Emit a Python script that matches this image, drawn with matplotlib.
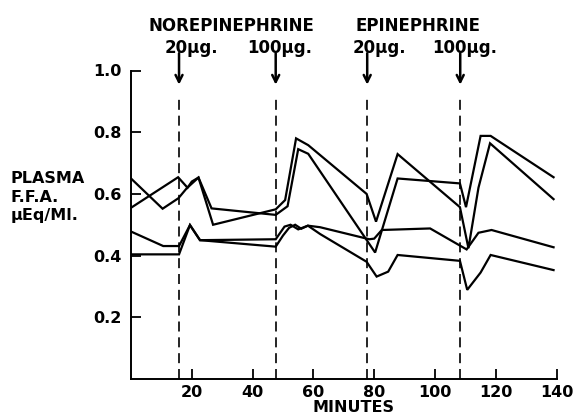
import matplotlib.pyplot as plt

# series: minutes, plasma FFA (uEq/ml)
t1 = [0, 15.5, 18.6, 20, 22.2, 27, 47.6, 50.7, 54.3, 58.3, 77.5, 80.6, 87.7, 108.2, 111, 114.3, 118.1, 139]
v1 = [0.555, 0.654, 0.62, 0.64, 0.653, 0.50, 0.55, 0.58, 0.78, 0.758, 0.60, 0.51, 0.729, 0.557, 0.424, 0.62, 0.764, 0.583]

t2 = [0, 10.4, 15.6, 18.3, 22.2, 26.5, 47.6, 51.5, 55, 58.3, 80.3, 87.7, 108.2, 110.2, 115, 118.3, 139]
v2 = [0.65, 0.552, 0.586, 0.618, 0.653, 0.553, 0.532, 0.56, 0.745, 0.73, 0.41, 0.65, 0.634, 0.557, 0.788, 0.788, 0.654]

t3 = [0, 10.6, 15.8, 19.4, 22.7, 47.6, 50.5, 52.5, 55, 58.2, 62.2, 77.5, 80.8, 84.6, 87.7, 108.2, 110.6, 115, 118.3, 139]
v3 = [0.478, 0.431, 0.431, 0.499, 0.45, 0.453, 0.494, 0.50, 0.485, 0.497, 0.47, 0.38, 0.332, 0.348, 0.402, 0.383, 0.289, 0.345, 0.402, 0.353]

t4 = [0, 15.8, 19.4, 22.7, 47.6, 50, 52, 54, 56, 58.2, 62.2, 78.4, 80, 82.5, 98.4, 110.4, 114.3, 118.6, 139]
v4 = [0.404, 0.404, 0.499, 0.45, 0.429, 0.465, 0.49, 0.50, 0.487, 0.497, 0.492, 0.453, 0.455, 0.483, 0.488, 0.42, 0.474, 0.483, 0.427]

injections = [15.8, 47.6, 77.7, 108.3]
doses = ["20\u03bcg.", "100\u03bcg.", "20\u03bcg.", "100\u03bcg."]
dose_x = [19.9, 49.0, 81.6, 109.8]
drugs = ["NOREPINEPHRINE", "EPINEPHRINE"]
drug_x = [32.9, 94.4]

plt.rcParams["font.family"] = ["DejaVu Sans"]
plt.rcParams["font.weight"] = "bold"

fig = plt.figure(figsize=(5.76, 4.18), dpi=100)
ax = fig.add_axes([131 / 576, 1 - 379 / 418, 425.6 / 576, 308.5 / 418])

for t, v in [(t1, v1), (t2, v2), (t3, v3), (t4, v4)]:
    ax.plot(t, v, color="black", linewidth=1.6, solid_joinstyle="miter")

# injection markers
ax.vlines(injections, 0, 0.925, colors="black", linewidth=1.2, linestyles=(0, (6, 3.5)))
for x in injections:
    ax.annotate("", xy=(x, 0.945), xytext=(x, 1.065), annotation_clip=False,
                arrowprops=dict(arrowstyle="->,head_length=0.5,head_width=0.25", lw=1.8, color="black"))
for x, s in zip(dose_x, doses):
    ax.text(x, 1.073, s, ha="center", va="center", fontsize=12, fontweight="bold", clip_on=False)
for x, s in zip(drug_x, drugs):
    ax.text(x, 1.144, s, ha="center", va="center", fontsize=12, fontweight="bold", clip_on=False)

ax.set_xlim(0, 140)
ax.set_ylim(0, 1.0)
ax.set_xticks([20, 40, 60, 80, 100, 120, 140])
ax.set_yticks([0.2, 0.4, 0.6, 0.8, 1.0])
ax.set_yticklabels(["0.2", "0.4", "0.6", "0.8", "1.0"])
ax.tick_params(direction="in", length=7, width=1.3, labelsize=11.5, colors="black")
ax.tick_params(axis="y", pad=7)
ax.tick_params(axis="x", pad=4)
for lab in ax.get_xticklabels() + ax.get_yticklabels():
    lab.set_fontweight("bold")

ax.spines["top"].set_visible(False)
ax.spines["right"].set_visible(False)
ax.spines["left"].set_linewidth(1.4)
ax.spines["bottom"].set_linewidth(1.4)

fig.text(353 / 576, 1 - 408 / 418, "MINUTES", ha="center", va="center", fontsize=11.5, fontweight="bold")
fig.text(11 / 576, 1 - 197 / 418, "PLASMA\nF.F.A.\n\u03bcEq/Ml.", ha="left", va="center",
         fontsize=11.5, fontweight="bold", linespacing=1.3)

fig.savefig("out.png", dpi=100)
